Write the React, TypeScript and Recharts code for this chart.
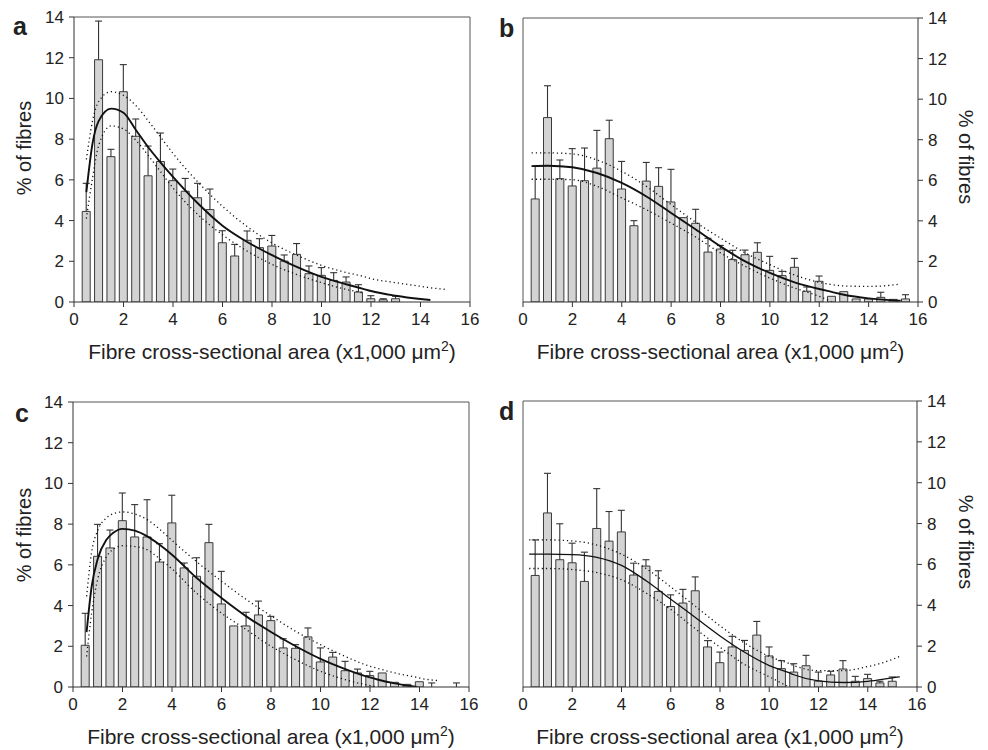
import React from 'react';
import { ComposedChart, Bar, Line, XAxis, YAxis, ReferenceLine } from 'recharts';

const xTicks = [0, 2, 4, 6, 8, 10, 12, 14, 16];
const yTicks = [0, 2, 4, 6, 8, 10, 12, 14];

// panel a
const binsA = [0.5, 1, 1.5, 2, 2.5, 3, 3.5, 4, 4.5, 5, 5.5, 6, 6.5, 7, 7.5, 8, 8.5, 9, 9.5, 10, 10.5, 11, 11.5, 12, 12.5, 13];
const valuesA = [4.45, 11.9, 7.14, 10.33, 8.14, 6.2, 6.9, 5.96, 5.44, 5.12, 4.54, 2.91, 2.26, 3.03, 2.67, 2.75, 2.01, 2.34, 1.39, 1.31, 1.06, 0.98, 0.49, 0.16, 0.11, 0.16];
const errorsA = [1.38, 1.9, 0.36, 1.33, 0.85, 1.46, 1.4, 0.57, 0.63, 0.71, 1.01, 0.59, 0.57, 0.46, 0.44, 0.52, 0.3, 0.53, 0.38, 0.38, 0.38, 0.25, 0.36, 0.15, 0.05, 0.12];
const curveXA = [0.5, 0.75, 1, 1.5, 2, 2.5, 3, 3.5, 4, 5, 6, 7, 8, 9, 10, 11, 11.65, 12, 13, 14, 14.4, 15];
const fitA = [5.4, 7.8, 8.9, 9.5, 9.3, 8.45, 7.6, 6.85, 6.15, 4.85, 3.75, 2.95, 2.3, 1.72, 1.23, 0.87, 0.66, 0.54, 0.31, 0.15, 0.1, null];
const upperA = [7.0, 8.9, 9.85, 10.33, 10.15, 9.65, 8.9, 8.1, 7.3, 5.9, 4.7, 3.7, 2.9, 2.3, 1.8, 1.45, 1.27, 1.15, 0.95, 0.77, 0.7, 0.62];
const lowerA = [4.1, 6.1, 7.7, 8.65, 8.5, 7.95, 7.2, 6.4, 5.6, 4.3, 3.3, 2.5, 1.85, 1.35, 0.95, 0.62, 0.46, null, null, null, null, null];

// panel b
const binsB = [0.5, 1, 1.5, 2, 2.5, 3, 3.5, 4, 4.5, 5, 5.5, 6, 6.5, 7, 7.5, 8, 8.5, 9, 9.5, 10, 10.5, 11, 11.5, 12, 12.5, 13, 13.5, 14, 14.5, 15, 15.5];
const valuesB = [5.08, 9.09, 6.08, 5.72, 5.98, 6.6, 8.05, 5.57, 3.76, 5.96, 5.7, 4.93, 4.16, 3.88, 2.46, 2.61, 2.09, 2.33, 2.45, 1.56, 1.3, 1.71, 0.53, 1.02, 0.28, 0.51, 0.15, 0.15, 0.23, 0.13, 0.15];
const errorsB = [1.61, 1.57, 0.92, 1.84, 1.61, 1.86, 0.91, 1.36, 0.25, 0.92, 0.92, 1.61, 0, 0.69, 0.68, 0.18, 0.46, 0.23, 0.47, 0.69, 0.21, 0.44, 0.21, 0.26, 0, 0, 0, 0, 0.25, 0, 0.21];
const curveXB = [0.35, 1, 2, 3, 4, 5, 6, 7, 8, 9, 10, 11, 12, 12.5, 13, 14, 15, 15.3];
const fitB = [6.7, 6.72, 6.64, 6.36, 5.87, 5.2, 4.39, 3.57, 2.74, 2.0, 1.43, 0.97, 0.64, 0.5, 0.36, 0.18, 0.08, 0.06];
const upperB = [7.35, 7.35, 7.3, 7.0, 6.44, 5.7, 4.8, 3.93, 3.15, 2.42, 1.84, 1.33, 0.97, 0.86, 0.79, 0.77, 0.84, 0.89];
const lowerB = [6.05, 6.05, 6.03, 5.7, 5.13, 4.55, 3.89, 3.2, 2.42, 1.76, 1.18, 0.69, 0.28, 0.02, null, null, null, null];

// panel c
const binsC = [0.5, 1, 1.5, 2, 2.5, 3, 3.5, 4, 4.5, 5, 5.5, 6, 6.5, 7, 7.5, 8, 8.5, 9, 9.5, 10, 10.5, 11, 11.5, 12, 12.5, 13, 13.5, 14, 14.5, 15, 15.5];
const valuesC = [2.05, 6.42, 6.83, 8.17, 7.37, 7.37, 6.14, 8.06, 5.85, 5.44, 7.09, 4.08, 3.0, 3.0, 3.54, 3.26, 1.92, 1.9, 2.46, 1.23, 1.47, 0.8, 0.69, 0.56, 0.69, 0.23, 0.13, 0.26, 0, 0, 0];
const errorsC = [1.57, 1.57, 0.88, 1.36, 1.59, 1.83, 0.9, 1.36, 0.24, 0.91, 0.9, 1.6, 0, 0.67, 0.68, 0.21, 0.45, 0.18, 0.44, 0.69, 0.23, 0.46, 0.19, 0.21, 0, 0, 0, 0, 0.2, 0, 0.2];
const curveXC = [0.55, 0.75, 1, 1.35, 1.6, 2, 2.5, 3, 3.5, 4, 5, 6, 7, 8, 9, 10, 11, 12, 12.3, 13, 13.9, 14, 14.8];
const fitC = [2.7, 4.9, 6.3, 7.23, 7.55, 7.77, 7.68, 7.4, 6.99, 6.5, 5.35, 4.37, 3.47, 2.7, 2.0, 1.38, 0.88, 0.47, 0.37, 0.18, 0, null, null];
const upperC = [4.45, 6.6, 7.7, 8.3, 8.5, 8.6, 8.5, 8.22, 7.75, 7.2, 6.15, 5.2, 4.3, 3.5, 2.73, 2.08, 1.5, 1.02, 0.92, 0.69, 0.47, 0.44, 0.31];
const lowerC = [1.5, 3.6, 5.3, 6.4, 6.75, 6.94, 6.9, 6.74, 6.3, 5.8, 4.6, 3.63, 2.82, 2.0, 1.34, 0.77, 0.36, 0.07, 0, null, null, null, null];

// panel d
const binsD = [0.5, 1, 1.5, 2, 2.5, 3, 3.5, 4, 4.5, 5, 5.5, 6, 6.5, 7, 7.5, 8, 8.5, 9, 9.5, 10, 10.5, 11, 11.5, 12, 12.5, 13, 13.5, 14, 14.5, 15];
const valuesD = [5.46, 8.52, 6.23, 6.08, 5.17, 7.76, 7.14, 7.59, 5.48, 5.92, 4.68, 3.94, 4.11, 4.71, 1.96, 1.19, 1.96, 1.79, 2.54, 1.52, 0.9, 0.73, 1.04, 0.29, 0.59, 0.88, 0.28, 0.41, 0.2, 0.28];
const errorsD = [1.74, 1.94, 1.76, 0.96, 1.43, 1.95, 1.45, 1.06, 0.58, 0.31, 1.01, 0.57, 0.67, 0.68, 0.31, 0.52, 0.52, 0.49, 0.67, 0.44, 0.39, 0.41, 0.51, 0.44, 0.18, 0.41, 0.24, 0.21, 0.08, 0.21];
const curveXD = [0.25, 1, 2, 3, 4, 5, 6, 7, 8, 9, 10, 10.8, 11, 12, 13, 14, 15, 15.3];
const fitD = [6.5, 6.5, 6.48, 6.35, 5.95, 5.2, 4.3, 3.4, 2.5, 1.7, 1.05, 0.7, 0.6, 0.3, 0.22, 0.28, 0.45, 0.5];
const upperD = [7.2, 7.2, 7.15, 6.95, 6.5, 5.8, 4.9, 3.95, 3.0, 2.15, 1.5, 1.15, 1.05, 0.8, 0.8, 1.0, 1.35, 1.5];
const lowerD = [5.8, 5.8, 5.75, 5.6, 5.25, 4.6, 3.8, 2.85, 1.95, 1.1, 0.5, 0, null, null, null, null, null, null];

const FONT = '"Liberation Sans", Arial, Helvetica, sans-serif';
const INK = '#222';
const AXIS = '#333';

const toBars = (bins: number[], values: number[], errors: number[]) =>
  bins.map((x, i) => ({ x, v: values[i], e: errors[i] }));

const toCurve = (xs: number[], ys: (number | null)[]) => xs.map((x, i) => ({ x, y: ys[i] }));

// one-sided (upper) error bar drawn on top of the stacked segment
const Whisker = (props: any) => {
  const { x, y, width, height } = props;
  if (!height || height <= 0) return null;
  const cx = x + width / 2;
  return (
    <g stroke={AXIS} strokeWidth={1.1}>
      <line x1={cx} y1={y} x2={cx} y2={y + height} />
      <line x1={cx - 3.5} y1={y} x2={cx + 3.5} y2={y} />
    </g>
  );
};

const XTitle = (props: any) => {
  const { viewBox } = props;
  const cx = viewBox.x + viewBox.width / 2;
  return (
    <text x={cx} y={viewBox.y + 57} textAnchor="middle" fontSize={21} fill={INK} fontFamily={FONT}>
      Fibre cross-sectional area (x1,000 μm
      <tspan dy={-8} fontSize={14}>2</tspan>
      <tspan dy={8}>)</tspan>
    </text>
  );
};

interface PanelProps {
  left: number;
  top: number;
  height: number;
  margin: { top: number; right: number; left: number; bottom: number };
  side: 'left' | 'right';
  axisWidth: number;
  xHeight: number;
  bins: number[];
  values: number[];
  errors: number[];
  curveX: number[];
  fit: (number | null)[];
  upper: (number | null)[];
  lower: (number | null)[];
  fitWidth: number;
}

const Panel = (p: PanelProps) => {
  const bars = toBars(p.bins, p.values, p.errors);
  const dotted = { stroke: '#111', strokeWidth: 1.3, strokeDasharray: '1.2 3' };
  return (
    <div style={{ position: 'absolute', left: p.left, top: p.top }}>
      <ComposedChart width={494} height={p.height} data={bars} margin={p.margin}>
        <XAxis
          type="number"
          dataKey="x"
          domain={[0, 16]}
          ticks={xTicks}
          interval={0}
          allowDataOverflow
          height={p.xHeight}
          stroke={AXIS}
          tickSize={5}
          tickMargin={6}
          tick={{ fill: INK, fontSize: 17, fontFamily: FONT }}
          label={<XTitle />}
        />
        {/* separate hidden axis for the fitted curves so they do not shrink the bar band */}
        <XAxis xAxisId="fit" type="number" dataKey="x" domain={[0, 16]} allowDataOverflow hide />
        <YAxis
          type="number"
          orientation={p.side}
          domain={[0, 14]}
          ticks={yTicks}
          interval={0}
          allowDataOverflow
          width={p.axisWidth}
          stroke={AXIS}
          tickSize={5}
          tickMargin={5}
          tick={{ fill: INK, fontSize: 17, fontFamily: FONT }}
        />
        <ReferenceLine y={14} stroke="#555" strokeWidth={1} />
        <ReferenceLine x={p.side === 'left' ? 16 : 0} stroke="#555" strokeWidth={1} />
        <Bar dataKey="v" stackId="s" barSize={8} fill="#d3d3d3" stroke="#3a3a3a" strokeWidth={1} isAnimationActive={false} />
        <Bar dataKey="e" stackId="s" barSize={8} shape={<Whisker />} isAnimationActive={false} />
        <Line
          xAxisId="fit"
          data={toCurve(p.curveX, p.upper)}
          dataKey="y"
          type="monotone"
          dot={false}
          connectNulls
          {...dotted}
          isAnimationActive={false}
        />
        <Line
          xAxisId="fit"
          data={toCurve(p.curveX, p.lower)}
          dataKey="y"
          type="monotone"
          dot={false}
          connectNulls
          {...dotted}
          isAnimationActive={false}
        />
        <Line
          xAxisId="fit"
          data={toCurve(p.curveX, p.fit)}
          dataKey="y"
          type="monotone"
          dot={false}
          connectNulls
          stroke="#111"
          strokeWidth={p.fitWidth}
          isAnimationActive={false}
        />
      </ComposedChart>
    </div>
  );
};

const App = () => {
  return (
    <div style={{ position: 'absolute', left: 0, top: 0, width: 988, height: 750, background: '#fff' }}>
      <Panel
        left={0}
        top={0}
        height={375}
        margin={{ top: 17, right: 24, left: 0, bottom: 0 }}
        side="left"
        axisWidth={74}
        xHeight={73}
        bins={binsA}
        values={valuesA}
        errors={errorsA}
        curveX={curveXA}
        fit={fitA}
        upper={upperA}
        lower={lowerA}
        fitWidth={1.9}
      />
      <Panel
        left={494}
        top={0}
        height={375}
        margin={{ top: 18, right: 0, left: 29, bottom: 0 }}
        side="right"
        axisWidth={70}
        xHeight={73}
        bins={binsB}
        values={valuesB}
        errors={errorsB}
        curveX={curveXB}
        fit={fitB}
        upper={upperB}
        lower={lowerB}
        fitWidth={1.9}
      />
      <Panel
        left={0}
        top={380}
        height={370}
        margin={{ top: 22, right: 25, left: 0, bottom: 0 }}
        side="left"
        axisWidth={73}
        xHeight={63}
        bins={binsC}
        values={valuesC}
        errors={errorsC}
        curveX={curveXC}
        fit={fitC}
        upper={upperC}
        lower={lowerC}
        fitWidth={1.9}
      />
      <Panel
        left={494}
        top={380}
        height={370}
        margin={{ top: 21, right: 0, left: 29, bottom: 0 }}
        side="right"
        axisWidth={71}
        xHeight={63}
        bins={binsD}
        values={valuesD}
        errors={errorsD}
        curveX={curveXD}
        fit={fitD}
        upper={upperD}
        lower={lowerD}
        fitWidth={1.3}
      />
      <svg
        width={988}
        height={750}
        style={{ position: 'absolute', left: 0, top: 0, pointerEvents: 'none' }}
        fontFamily={FONT}
        fill={INK}
      >
        <text x={13} y={35} fontSize={25} fontWeight="bold">a</text>
        <text x={499} y={37} fontSize={25} fontWeight="bold">b</text>
        <text x={15} y={422} fontSize={25} fontWeight="bold">c</text>
        <text x={499} y={420} fontSize={25} fontWeight="bold">d</text>
        <text x={31} y={148} fontSize={20} textAnchor="middle" transform="rotate(-90 31 148)">% of fibres</text>
        <text x={31} y={535} fontSize={20} textAnchor="middle" transform="rotate(-90 31 535)">% of fibres</text>
        <text x={959} y={157} fontSize={20} textAnchor="middle" transform="rotate(90 959 157)">% of fibres</text>
        <text x={959} y={542} fontSize={20} textAnchor="middle" transform="rotate(90 959 542)">% of fibres</text>
      </svg>
    </div>
  );
};

export default App;
